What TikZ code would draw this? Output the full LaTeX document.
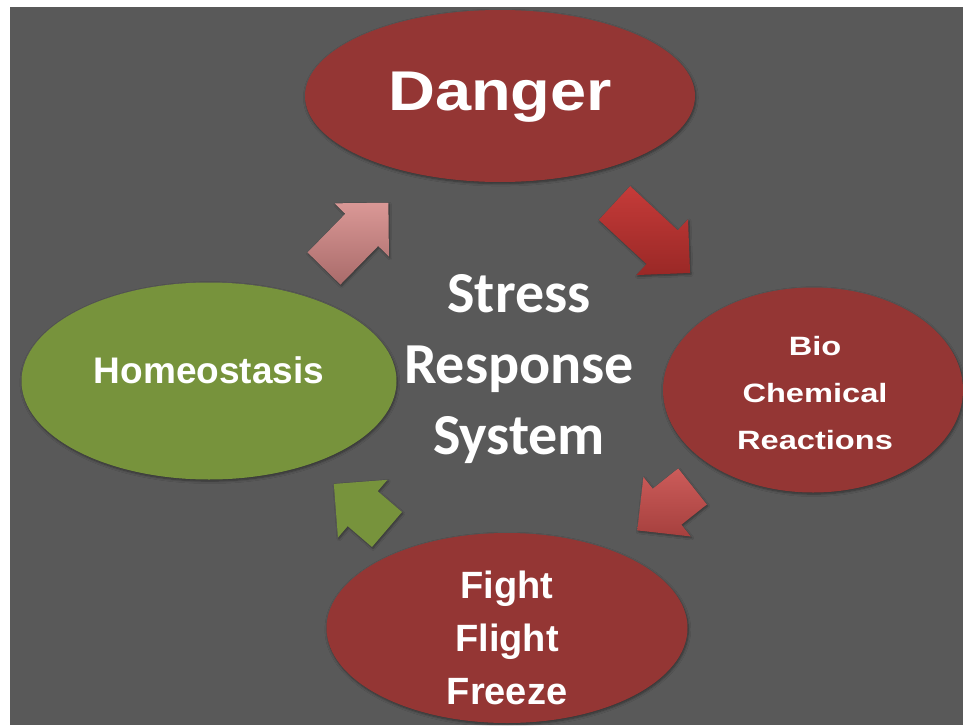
\documentclass[tikz,border=0pt]{standalone}
\usepackage{fontspec}
\setmainfont{Liberation Sans}
\newfontfamily\calibfont{Carlito}
\usetikzlibrary{shapes.geometric,shadows.blur}

\definecolor{slate}{HTML}{595959}
\definecolor{brick}{HTML}{943634}
\definecolor{olive}{HTML}{77933C}
\definecolor{rosetop}{HTML}{DA9896}
\definecolor{rosebot}{HTML}{A96B6A}
\definecolor{redtop}{HTML}{C53B39}
\definecolor{redbot}{HTML}{9A2826}
\definecolor{salmtop}{HTML}{CC5C5A}
\definecolor{salmbot}{HTML}{A6403E}

\tikzset{
  bubble/.style={ellipse, inner sep=0pt, draw=none,
    blur shadow={shadow xshift=0.8pt, shadow yshift=-1.6pt,
      shadow blur radius=2.5pt, shadow blur steps=6, shadow opacity=45}},
  redbubble/.style={bubble, fill=brick},
  greenbubble/.style={bubble, fill=olive},
  label/.style={text=white, align=center, inner sep=0pt, font=\bfseries},
  arrshadow/.style={blur shadow={shadow xshift=1pt, shadow yshift=-1.5pt,
      shadow blur radius=2pt, shadow blur steps=5, shadow opacity=40}},
}

% block arrow: tail centre, direction, length, fill options
\newcommand\blockarrow[4]{%
  \path[shift={(#1)}, rotate=#2, arrshadow, #4]
    (0,23) -- ({#3-38},23) -- ({#3-38},38) -- (#3,0)
    -- ({#3-38},-38) -- ({#3-38},-23) -- (0,-23) -- cycle;}

\begin{document}
\begin{tikzpicture}[x=1pt,y=-1pt]
\useasboundingbox (0,0) rectangle (963,725);
\fill[slate] (10,7) rectangle (963,725);

% the four stages
\node[redbubble, minimum width=390pt, minimum height=172pt] (danger) at (500,96) {};
\node[redbubble, minimum width=300pt, minimum height=205pt] (bio) at (813,390) {};
\node[redbubble, minimum width=361pt, minimum height=190pt] (fight) at (507,628) {};
\node[greenbubble, minimum width=375pt, minimum height=197pt] (homeo) at (209,381) {};

% arrows between the stages
\coordinate (a1) at (324,268.5);
\coordinate (a2) at (614.5,203);
\coordinate (a3) at (692.5,486.5);
\coordinate (a4) at (387,529.5);
\blockarrow{a1}{45.6}{92}{top color=rosetop, bottom color=rosebot}
\blockarrow{a2}{-42.8}{103}{top color=redtop, bottom color=redbot}
\blockarrow{a3}{218.5}{70.5}{top color=salmtop, bottom color=salmbot}
\blockarrow{a4}{139.4}{70}{fill=olive}

% texts
\node[label, xscale=1.16, font=\bfseries\fontsize{56}{60}\selectfont] (danger-t) at (500,97) {Danger};
\node[label, xscale=1.23, font=\bfseries\fontsize{26.5}{47}\selectfont] (bio-t) at (815,393) {Bio\\Chemical\\Reactions};
\node[label, font=\bfseries\fontsize{38}{53}\selectfont] (fight-t) at (507,638) {Fight\\Flight\\Freeze};
\node[label, font=\bfseries\fontsize{37}{40}\selectfont] (homeo-t) at (209,370) {Homeostasis};
\node[label, font=\calibfont\bfseries\fontsize{58}{71}\selectfont] (core) at (519,369) {Stress\\Response\\System};
\end{tikzpicture}
\end{document}
